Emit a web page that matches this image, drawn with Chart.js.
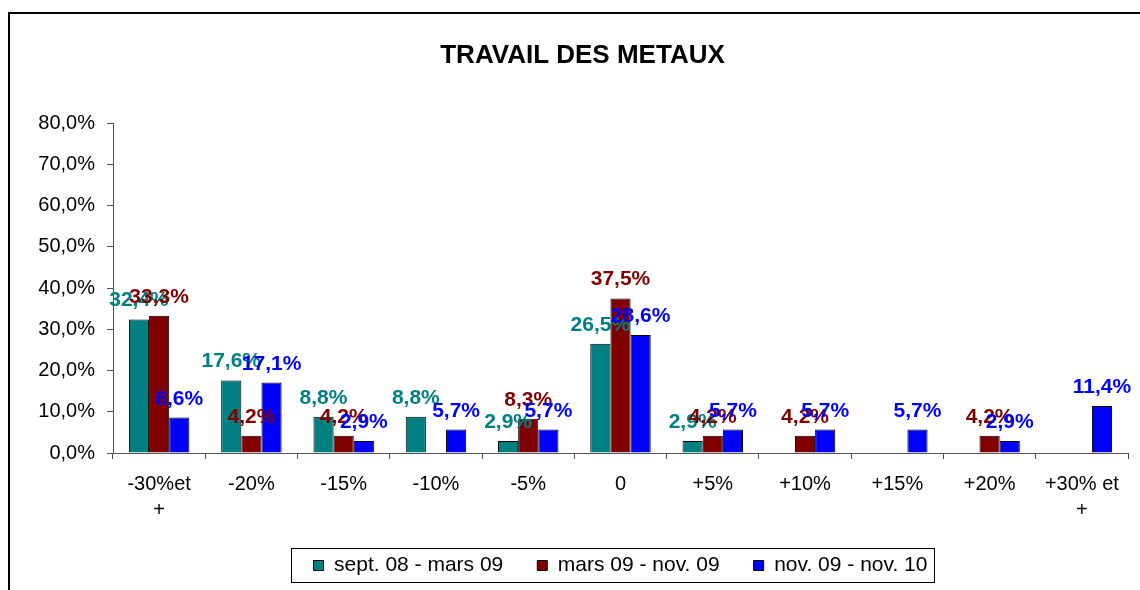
<!DOCTYPE html>
<html>
<head>
<meta charset="utf-8">
<script src="https://cdn.jsdelivr.net/npm/chart.js@4.4.1/dist/chart.umd.min.js"></script>
<style>
  html, body { margin: 0; padding: 0; background: #fff; }
  #chart1 { display: block; }
</style>
</head>
<body>
<canvas id="chart1" width="1140" height="590"></canvas>
<script>
const categories = [["-30%et", "+"], "-20%", "-15%", "-10%", "-5%", "0", "+5%", "+10%", "+15%", "+20%", ["+30% et", "+"]];
const seriesNames = ["sept. 08 - mars 09", "mars 09 - nov. 09", "nov. 09 - nov. 10"];
// blank cells are null (no bar, no label)
const sept08Mars09 = [32.4, 17.6, 8.8, 8.8, 2.9, 26.5, 2.9, null, null, null, null];
const mars09Nov09 = [33.3, 4.2, 4.2, null, 8.3, 37.5, 4.2, 4.2, null, 4.2, null];
const nov09Nov10 = [8.6, 17.1, 2.9, 5.7, 5.7, 28.6, 5.7, 5.7, 5.7, 2.9, 11.4];
const yMax = 80;
const yStep = 10;

const font = "'Liberation Sans', Arial, sans-serif";
const axisColor = "#555";

const pct = (v) => v.toFixed(1).replace(".", ",") + "%";

// value labels above the bars, coloured like the series
const valueLabels = {
  id: "valueLabels",
  afterDatasetsDraw(chart) {
    const ctx = chart.ctx;
    ctx.save();
    ctx.font = "bold 21px " + font;
    ctx.textAlign = "center";
    ctx.textBaseline = "alphabetic";
    chart.data.datasets.forEach((ds, i) => {
      const meta = chart.getDatasetMeta(i);
      meta.data.forEach((bar, j) => {
        const v = ds.data[j];
        if (v === null) return;
        ctx.fillStyle = ds.backgroundColor;
        ctx.fillText(pct(v), bar.x, bar.y - 13);
      });
    });
    ctx.restore();
  }
};

// outer frame and the box round the legend
const frames = {
  id: "frames",
  afterDraw(chart) {
    const ctx = chart.ctx;
    ctx.save();
    ctx.strokeStyle = "#000";
    ctx.lineWidth = 2;
    ctx.strokeRect(9, 13, 1200, 700);

    const hb = chart.legend.legendHitBoxes;
    if (hb && hb.length) {
      const first = hb[0];
      const last = hb[hb.length - 1];
      const left = first.left - 23;
      const right = last.left + last.width + 6;
      const top = first.top - 7;
      const bottom = first.top + first.height + 6;
      ctx.lineWidth = 1;
      ctx.strokeRect(Math.round(left) + 0.5, Math.round(top) + 0.5, Math.round(right - left), Math.round(bottom - top));
    }
    ctx.restore();
  }
};

const canvas = document.getElementById("chart1");
const ctx = canvas.getContext("2d");

const myChart = new Chart(ctx, {
  type: "bar",
  data: {
    labels: categories,
    datasets: [
      {
        label: seriesNames[0],
        data: sept08Mars09,
        backgroundColor: "#008080",
        borderColor: "#000",
        borderWidth: 1
      },
      {
        label: seriesNames[1],
        data: mars09Nov09,
        backgroundColor: "#800000",
        borderColor: "#000",
        borderWidth: 1
      },
      {
        label: seriesNames[2],
        data: nov09Nov10,
        backgroundColor: "#0000ff",
        borderColor: "#000",
        borderWidth: 1
      }
    ]
  },
  options: {
    responsive: false,
    animation: false,
    datasets: {
      bar: {
        categoryPercentage: 0.655,
        barPercentage: 1
      }
    },
    layout: {
      padding: { top: 10, left: 37, right: 12, bottom: 4 }
    },
    plugins: {
      title: {
        display: true,
        text: "TRAVAIL DES METAUX",
        color: "#000",
        font: { family: font, size: 26, weight: "bold" },
        padding: { top: 30, bottom: 52 }
      },
      legend: {
        position: "bottom",
        fullSize: false,
        labels: {
          color: "#000",
          font: { family: font, size: 21 },
          boxWidth: 10,
          boxHeight: 10,
          padding: 34
        }
      },
      tooltip: { enabled: false }
    },
    scales: {
      x: {
        afterFit: (scale) => { scale.height = 68; },
        grid: {
          offset: true,
          drawOnChartArea: false,
          drawTicks: true,
          tickLength: 6,
          color: axisColor
        },
        border: { display: true, color: axisColor, width: 1 },
        ticks: {
          color: "#000",
          padding: 12,
          maxRotation: 0,
          autoSkip: false,
          font: { family: font, size: 20, lineHeight: 1.3 }
        }
      },
      y: {
        min: 0,
        max: yMax,
        afterFit: (scale) => { scale.width = 76; },
        grid: {
          drawOnChartArea: false,
          drawTicks: true,
          tickLength: 6,
          color: axisColor
        },
        border: { display: true, color: axisColor, width: 1 },
        ticks: {
          stepSize: yStep,
          color: "#000",
          padding: 12,
          font: { family: font, size: 20 },
          callback: (value) => pct(value)
        }
      }
    }
  },
  plugins: [valueLabels, frames]
});
</script>
</body>
</html>
